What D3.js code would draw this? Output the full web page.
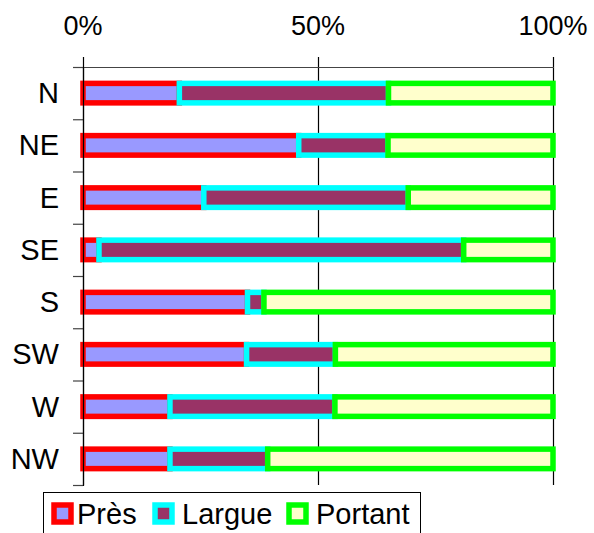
<!DOCTYPE html>
<html>
<head>
<meta charset="utf-8">
<script src="https://cdn.jsdelivr.net/npm/d3@7"></script>
<style>
  body { margin: 0; background: #fff; }
  text { font-family: "Liberation Sans", Arial, sans-serif; fill: #000; }
</style>
</head>
<body>
<div id="chart"></div>
<script>
// directions (top to bottom) and share of each point of sail, in %
var directions = ["N", "NE", "E", "SE", "S", "SW", "W", "NW"];
var pres    = [20.5, 45.9, 25.7,  3.4, 35.0, 34.8, 18.5, 18.5];
var largue  = [44.5, 19.0, 43.5, 77.6,  3.5, 18.9, 35.1, 20.8];
var portant = [35.0, 35.1, 30.8, 19.0, 61.5, 46.3, 46.4, 60.7];
var seriesNames = ["Près", "Largue", "Portant"];
var tickValues = [0, 50, 100];

var fills   = ["#9999FF", "#993366", "#FFFFCC"];
var strokes = ["#FF0000", "#00FFFF", "#00FF00"];

var W = 594, H = 533;
// note: "top" is a reserved window property, so use other names
var pLeft = 83, pRight = 553, pTop = 67, pBottom = 485;

var rows = directions.map(function(d, i) {
  return { dir: d, "Près": pres[i], "Largue": largue[i], "Portant": portant[i] };
});

var svg = d3.select("#chart").append("svg")
  .attr("width", W)
  .attr("height", H);

var x = d3.scaleLinear().domain([0, 100]).range([pLeft, pRight]);
var y = d3.scaleBand().domain(directions).range([pTop, pBottom]);

// gridlines (they also stick out above the axis as ticks)
svg.append("g")
  .selectAll("line")
  .data(tickValues)
  .enter()
  .append("line")
    .attr("x1", d => x(d) + 0.5)
    .attr("x2", d => x(d) + 0.5)
    .attr("y1", pTop - 10)
    .attr("y2", pBottom)
    .attr("stroke", "#000")
    .attr("stroke-width", 1.2);

// top axis line
svg.append("line")
  .attr("x1", pLeft).attr("x2", pRight + 1)
  .attr("y1", pTop + 0.5).attr("y2", pTop + 0.5)
  .attr("stroke", "#444")
  .attr("stroke-width", 1.2);

// category ticks on the left axis
var bounds = directions.map(d => y(d)).concat([pBottom]);
svg.append("g")
  .selectAll("line")
  .data(bounds)
  .enter()
  .append("line")
    .attr("x1", pLeft - 10)
    .attr("x2", pLeft)
    .attr("y1", d => d + 0.5)
    .attr("y2", d => d + 0.5)
    .attr("stroke", "#444")
    .attr("stroke-width", 1.2);

// tick labels
svg.append("g")
  .selectAll("text")
  .data(tickValues)
  .enter()
  .append("text")
    .attr("x", d => x(d))
    .attr("y", 35)
    .attr("text-anchor", "middle")
    .attr("font-size", 27)
    .text(d => d + "%");

// category labels
svg.append("g")
  .selectAll("text")
  .data(directions)
  .enter()
  .append("text")
    .attr("x", 59)
    .attr("y", d => y(d) + y.bandwidth() / 2 + 10)
    .attr("text-anchor", "end")
    .attr("font-size", 29)
    .text(d => d);

// stacked bars
var stack = d3.stack().keys(seriesNames);
var layers = stack(rows);
var barH = 19.5, sw = 5.5;

svg.selectAll("g.layer")
  .data(layers)
  .enter()
  .append("g")
    .attr("class", "layer")
    .attr("fill", (d, i) => fills[i])
    .attr("stroke", (d, i) => strokes[i])
    .attr("stroke-width", sw)
  .selectAll("rect")
  .data(d => d)
  .enter()
  .append("rect")
    .attr("x", d => x(d[0]))
    .attr("width", d => x(d[1]) - x(d[0]))
    .attr("y", d => y(d.data.dir) + y.bandwidth() / 2 - barH / 2)
    .attr("height", barH);

// left axis line
svg.append("line")
  .attr("x1", pLeft + 0.5).attr("x2", pLeft + 0.5)
  .attr("y1", pTop).attr("y2", pBottom + 1)
  .attr("stroke", "#000")
  .attr("stroke-width", 1.2);

// legend
var legend = svg.append("g");
legend.append("rect")
  .attr("x", 43.5).attr("y", 492.5)
  .attr("width", 377).attr("height", 60)
  .attr("fill", "#fff")
  .attr("stroke", "#000")
  .attr("stroke-width", 1);

var legX = [54, 155, 289];
var legTextX = [77, 182, 316];
var items = legend.selectAll("g.item")
  .data(seriesNames)
  .enter()
  .append("g")
    .attr("class", "item");

items.append("rect")
  .attr("x", (d, i) => legX[i])
  .attr("y", 505)
  .attr("width", 17).attr("height", 17)
  .attr("fill", (d, i) => fills[i])
  .attr("stroke", (d, i) => strokes[i])
  .attr("stroke-width", sw);

items.append("text")
  .attr("x", (d, i) => legTextX[i])
  .attr("y", 524)
  .attr("font-size", 29)
  .text(d => d);
</script>
</body>
</html>
